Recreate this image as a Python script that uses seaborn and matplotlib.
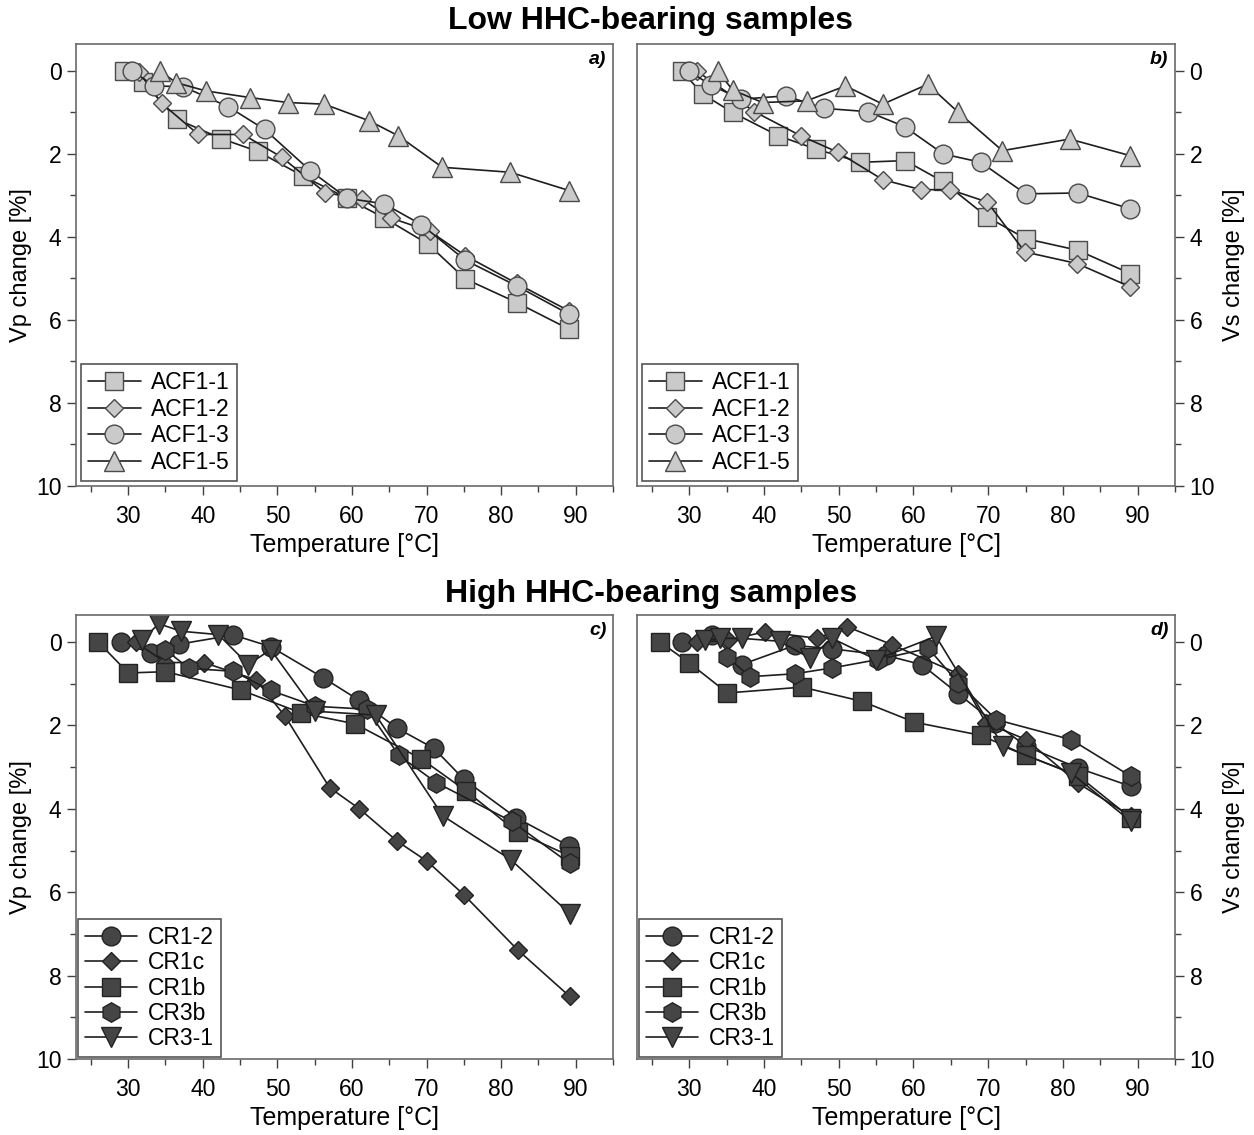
import matplotlib
matplotlib.use("Agg")
import matplotlib.pyplot as plt
from matplotlib.ticker import MultipleLocator
import pandas as pd
import seaborn as sns

# ---------------- data ----------------
# Panel a) Vp change, low HHC-bearing samples
a_T_acf11 = [29.5, 32.0, 36.5, 42.5, 47.4, 53.4, 59.4, 64.3, 70.2, 75.2, 82.1, 89.1]
a_V_acf11 = [0.0, 0.26, 1.16, 1.63, 1.94, 2.53, 3.07, 3.54, 4.17, 5.01, 5.58, 6.22]
a_T_acf12 = [31.4, 34.5, 39.4, 45.4, 50.6, 56.4, 61.4, 65.2, 70.4, 75.2, 82.1, 89.1]
a_V_acf12 = [0.02, 0.78, 1.53, 1.53, 2.08, 2.93, 3.09, 3.54, 3.86, 4.45, 5.12, 5.78]
a_T_acf13 = [30.5, 33.5, 37.4, 43.4, 48.3, 54.4, 59.4, 64.3, 69.3, 75.2, 82.1, 89.1]
a_V_acf13 = [0.0, 0.36, 0.38, 0.86, 1.41, 2.40, 3.07, 3.20, 3.70, 4.56, 5.18, 5.86]
a_T_acf15 = [34.3, 36.4, 40.4, 46.3, 51.4, 56.3, 62.3, 66.2, 72.1, 81.2, 89.1]
a_V_acf15 = [0.0, 0.28, 0.48, 0.64, 0.76, 0.80, 1.20, 1.56, 2.32, 2.44, 2.88]

# Panel b) Vs change, low HHC-bearing samples
b_T_acf11 = [29.0, 31.8, 35.8, 41.9, 46.9, 52.9, 58.9, 63.9, 69.9, 75.0, 82.0, 89.0]
b_V_acf11 = [0.0, 0.56, 1.0, 1.56, 1.88, 2.20, 2.16, 2.66, 3.52, 4.04, 4.32, 4.88]
b_T_acf12 = [31.0, 38.7, 44.9, 49.9, 55.9, 61.0, 64.9, 69.9, 74.9, 81.9, 89.0]
b_V_acf12 = [0.0, 0.98, 1.56, 1.96, 2.62, 2.86, 2.86, 3.16, 4.36, 4.64, 5.20]
b_T_acf13 = [29.9, 32.9, 36.9, 42.9, 48.0, 53.9, 58.8, 64.0, 69.0, 75.0, 82.0, 89.0]
b_V_acf13 = [0.0, 0.34, 0.68, 0.60, 0.90, 0.98, 1.34, 2.0, 2.20, 2.96, 2.94, 3.32]
b_T_acf15 = [33.8, 35.8, 39.8, 45.7, 50.9, 55.9, 61.9, 65.9, 71.9, 80.9, 89.0]
b_V_acf15 = [0.0, 0.46, 0.76, 0.72, 0.36, 0.80, 0.32, 0.98, 1.92, 1.64, 2.04]

# Panel c) Vp change, high HHC-bearing samples
c_T_cr12 = [29.0, 33.0, 36.8, 44.1, 49.1, 56.1, 61.0, 66.1, 71.0, 75.0, 82.0, 89.1]
c_V_cr12 = [0.0, 0.26, 0.05, -0.17, 0.11, 0.85, 1.40, 2.07, 2.55, 3.29, 4.21, 4.89]
c_T_cr1c = [31.0, 35.0, 40.1, 47.1, 51.0, 57.0, 61.0, 66.1, 70.1, 75.0, 82.2, 89.2]
c_V_cr1c = [0.0, 0.49, 0.49, 0.90, 1.77, 3.49, 4.0, 4.78, 5.26, 6.06, 7.38, 8.50]
c_T_cr1b = [26.0, 30.0, 35.0, 45.1, 53.2, 60.4, 69.3, 75.3, 82.2, 89.2]
c_V_cr1b = [0.0, 0.74, 0.71, 1.15, 1.70, 1.96, 2.80, 3.57, 4.56, 5.13]
c_T_cr3b = [35.0, 38.1, 44.1, 49.1, 55.1, 62.0, 66.3, 71.3, 81.4, 89.2]
c_V_cr3b = [0.18, 0.63, 0.70, 1.16, 1.54, 1.61, 2.72, 3.37, 4.30, 5.31]
c_T_cr31 = [31.9, 34.1, 37.1, 42.1, 46.1, 49.1, 55.1, 63.2, 72.2, 81.3, 89.2]
c_V_cr31 = [-0.06, -0.44, -0.26, -0.18, 0.54, 0.18, 1.66, 1.75, 4.17, 5.22, 6.51]

# Panel d) Vs change, high HHC-bearing samples
d_T_cr12 = [29.0, 33.0, 37.0, 44.1, 49.1, 56.3, 61.1, 66.0, 70.9, 75.1, 82.0, 89.1]
d_V_cr12 = [0.0, -0.17, 0.54, 0.08, 0.16, 0.32, 0.54, 1.24, 1.94, 2.50, 3.02, 3.46]
d_T_cr1c = [31.0, 35.2, 40.1, 47.1, 51.1, 57.1, 66.0, 69.7, 75.1, 82.0, 89.1]
d_V_cr1c = [0.0, -0.04, -0.25, -0.09, -0.37, 0.06, 0.76, 1.94, 2.34, 3.38, 4.18]
d_T_cr1b = [26.1, 30.0, 35.1, 45.1, 53.1, 60.1, 69.1, 75.1, 82.0, 89.1]
d_V_cr1b = [0.0, 0.50, 1.22, 1.08, 1.42, 1.92, 2.24, 2.72, 3.20, 4.22]
d_T_cr3b = [35.1, 38.1, 44.1, 49.1, 55.2, 62.0, 66.0, 71.1, 81.1, 89.1]
d_V_cr3b = [0.36, 0.83, 0.76, 0.62, 0.42, 0.15, 0.98, 1.86, 2.34, 3.22]
d_T_cr31 = [32.1, 34.1, 37.0, 42.1, 46.1, 49.1, 55.0, 63.0, 72.0, 81.1, 89.1]
d_V_cr31 = [-0.04, -0.09, -0.09, -0.02, 0.38, -0.09, 0.42, -0.14, 2.50, 3.14, 4.30]

low_labels = ["ACF1-1", "ACF1-2", "ACF1-3", "ACF1-5"]
high_labels = ["CR1-2", "CR1c", "CR1b", "CR3b", "CR3-1"]
x_ticks = [30, 40, 50, 60, 70, 80, 90]
y_ticks = [0, 2, 4, 6, 8, 10]

# ---------------- style ----------------
sns.set_style("ticks")
plt.rcParams["font.family"] = ["Liberation Sans", "DejaVu Sans"]
plt.rcParams["text.color"] = "black"
plt.rcParams["axes.labelcolor"] = "black"
plt.rcParams["xtick.labelcolor"] = "black"
plt.rcParams["ytick.labelcolor"] = "black"

LIGHT_FC, LIGHT_EC = "#cacaca", "#4a4a4a"
DARK_FC, DARK_EC = "#454545", "#222222"
LINE_C = "#1e1e1e"
SPINE_C = "#6a6a6a"

low_markers = {"ACF1-1": ("s", 13), "ACF1-2": ("D", 8.8),
               "ACF1-3": ("o", 13.5), "ACF1-5": ("^", 14)}
high_markers = {"CR1-2": ("o", 13.5), "CR1c": ("D", 9.2), "CR1b": ("s", 13),
                "CR3b": ("h", 14), "CR3-1": ("v", 14)}

fig = plt.figure(figsize=(12.54, 11.35), dpi=100)
W, H = 1254.0, 1135.0


def make_ax(x0, x1, y0, y1):
    return fig.add_axes([x0 / W, 1 - y1 / H, (x1 - x0) / W, (y1 - y0) / H])


def draw(ax, series, markers, labels, fc, ec, side, ylabel, tag,
         leg_pad, leg_space):
    for (T, V), lab in zip(series, labels):
        m, ms = markers[lab]
        df = pd.DataFrame({"T": T, "V": V})
        sns.lineplot(data=df, x="T", y="V", ax=ax, sort=False, estimator=None,
                     color=LINE_C, lw=1.2, marker=m, markersize=ms,
                     markerfacecolor=fc, markeredgecolor=ec,
                     markeredgewidth=1.0, label=lab, legend=False)
    ax.set_xlim(23, 95)
    ax.set_ylim(10, -0.65)
    ax.xaxis.set_major_locator(plt.FixedLocator(x_ticks))
    ax.xaxis.set_minor_locator(MultipleLocator(5))
    ax.yaxis.set_major_locator(plt.FixedLocator(y_ticks))
    ax.yaxis.set_minor_locator(MultipleLocator(1))
    for s in ax.spines.values():
        s.set_color(SPINE_C)
        s.set_linewidth(1.2)
    ax.tick_params(which="both", direction="out", color="#404040",
                   labelsize=16.5, width=1.0, labelcolor="black")
    ax.tick_params(which="major", length=6.5)
    ax.tick_params(which="minor", length=4)
    ax.tick_params(axis="x", which="major", pad=7)
    ax.tick_params(axis="y", which="major", pad=4)
    ax.tick_params(axis="x", which="both", top=False, bottom=True)
    if side == "left":
        ax.tick_params(axis="y", which="both", left=True, right=False,
                       labelleft=True, labelright=False)
        ax.yaxis.set_label_position("left")
    else:
        ax.tick_params(axis="y", which="both", left=False, right=True,
                       labelleft=False, labelright=True)
        ax.yaxis.set_label_position("right")
    ax.set_xlabel("Temperature [°C]", fontsize=18, labelpad=4, color="black")
    ax.set_ylabel(ylabel, fontsize=17, labelpad=3 if side == "left" else 6,
                  color="black")
    ax.text(0.988, 0.985, tag, transform=ax.transAxes, ha="right", va="top",
            fontsize=14, fontweight="bold", fontstyle="italic", color="black")
    handles = ax.get_lines()
    leg = ax.legend(handles, labels, loc="lower left", frameon=True,
                    fancybox=False, edgecolor="#555555", framealpha=1,
                    fontsize=16.5, handlelength=2.3, handletextpad=0.45,
                    labelspacing=leg_space, borderpad=0.3,
                    borderaxespad=leg_pad, numpoints=1)
    leg.get_frame().set_linewidth(1.2)
    for t in leg.get_texts():
        t.set_color("black")


ax_a = make_ax(76, 613, 44, 486)
ax_b = make_ax(637, 1175, 44, 486)
ax_c = make_ax(76, 613, 615, 1059)
ax_d = make_ax(637, 1175, 615, 1059)

draw(ax_a, [(a_T_acf11, a_V_acf11), (a_T_acf12, a_V_acf12),
            (a_T_acf13, a_V_acf13), (a_T_acf15, a_V_acf15)],
     low_markers, low_labels, LIGHT_FC, LIGHT_EC, "left", "Vp change [%]", "a)",
     0.22, 0.16)
draw(ax_b, [(b_T_acf11, b_V_acf11), (b_T_acf12, b_V_acf12),
            (b_T_acf13, b_V_acf13), (b_T_acf15, b_V_acf15)],
     low_markers, low_labels, LIGHT_FC, LIGHT_EC, "right", "Vs change [%]", "b)",
     0.22, 0.16)
draw(ax_c, [(c_T_cr12, c_V_cr12), (c_T_cr1c, c_V_cr1c), (c_T_cr1b, c_V_cr1b),
            (c_T_cr3b, c_V_cr3b), (c_T_cr31, c_V_cr31)],
     high_markers, high_labels, DARK_FC, DARK_EC, "left", "Vp change [%]", "c)",
     0.08, 0.1)
draw(ax_d, [(d_T_cr12, d_V_cr12), (d_T_cr1c, d_V_cr1c), (d_T_cr1b, d_V_cr1b),
            (d_T_cr3b, d_V_cr3b), (d_T_cr31, d_V_cr31)],
     high_markers, high_labels, DARK_FC, DARK_EC, "right", "Vs change [%]", "d)",
     0.08, 0.1)

fig.text(651 / W, 1 - 21 / H, "Low HHC-bearing samples", ha="center",
         va="center", fontsize=23, fontweight="bold", color="black")
fig.text(651 / W, 1 - 594 / H, "High HHC-bearing samples", ha="center",
         va="center", fontsize=23, fontweight="bold", color="black")

fig.savefig("out.png", dpi=100, facecolor="white")
